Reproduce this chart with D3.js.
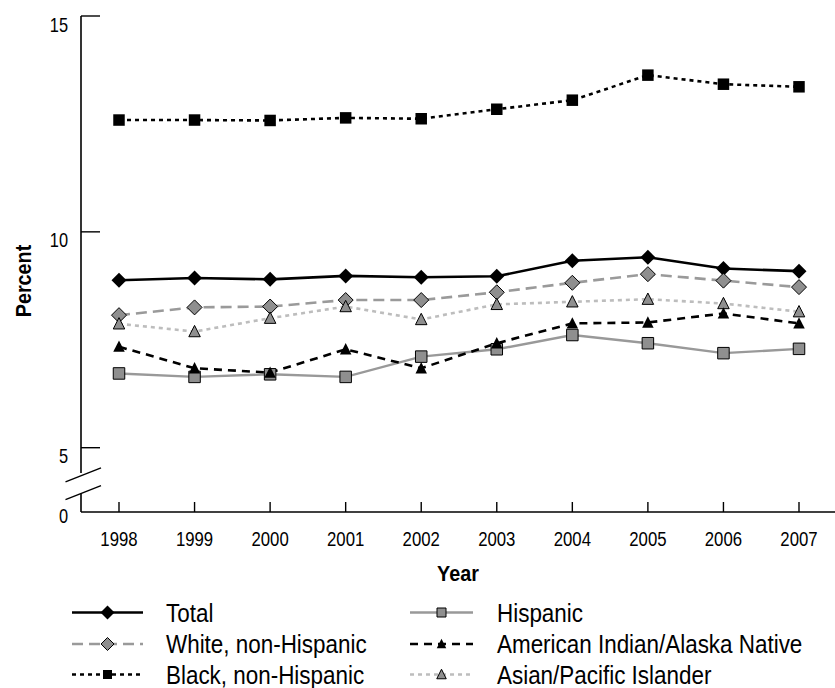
<!DOCTYPE html>
<html>
<head>
<meta charset="utf-8">
<script src="https://cdn.jsdelivr.net/npm/d3@7"></script>
<style>
  html, body { margin: 0; padding: 0; background: #fff; }
  svg { display: block; }
  text { font-family: "Liberation Sans", Arial, sans-serif; fill: #000; }
</style>
</head>
<body>
<svg id="chart" width="835" height="688"></svg>
<script>
const years = [1998, 1999, 2000, 2001, 2002, 2003, 2004, 2005, 2006, 2007];
const yTickValues = [0, 5, 10, 15];

const total    = [8.88, 8.93, 8.90, 8.98, 8.95, 8.97, 9.33, 9.41, 9.15, 9.09];
const white    = [8.07, 8.25, 8.27, 8.42, 8.42, 8.60, 8.82, 9.02, 8.87, 8.72];
const black    = [12.59, 12.59, 12.58, 12.64, 12.62, 12.84, 13.05, 13.63, 13.42, 13.36];
const hispanic = [6.72, 6.64, 6.70, 6.64, 7.11, 7.28, 7.61, 7.42, 7.19, 7.29];
const amInd    = [7.34, 6.84, 6.74, 7.28, 6.84, 7.42, 7.88, 7.90, 8.11, 7.88];
const asian    = [7.87, 7.69, 8.00, 8.27, 7.97, 8.32, 8.38, 8.44, 8.34, 8.15];

const seriesNames = ["Total", "White, non-Hispanic", "Black, non-Hispanic",
                     "Hispanic", "American Indian/Alaska Native", "Asian/Pacific Islander"];

const GRAY = "#8f8f8f";
const series = [
  {name: seriesNames[0], values: total,    stroke: "#000",    dash: null,    width: 2.6, shape: "diamond",  fill: "#000", mstroke: "none", size: 15, lsize: 14},
  {name: seriesNames[1], values: white,    stroke: "#9a9a9a", dash: "11,6",  width: 2.6, shape: "diamond",  fill: GRAY,   mstroke: "#000", size: 15, lsize: 13},
  {name: seriesNames[2], values: black,    stroke: "#000",    dash: "4,4",   width: 2.6, shape: "square",   fill: "#000", mstroke: "none", size: 11.5, lsize: 9},
  {name: seriesNames[3], values: hispanic, stroke: "#999",    dash: null,    width: 2.4, shape: "square",   fill: GRAY,   mstroke: "#000", size: 11.5, lsize: 9},
  {name: seriesNames[5], values: asian,    stroke: "#bdbdbd", dash: "4,4",   width: 2.6, shape: "triangle", fill: GRAY,   mstroke: "#000", size: 11.5, lsize: 9.5},
  {name: seriesNames[4], values: amInd,    stroke: "#000",    dash: "8,6",   width: 2.6, shape: "triangle", fill: "#000", mstroke: "none", size: 11.5, lsize: 9.5}
];

const svg = d3.select("#chart");

const x = d3.scaleLinear().domain([1998, 2007]).range([119, 799]);
// broken axis: 0..5 compressed, 5..15 linear
const y = d3.scaleLinear().domain([0, 5, 15]).range([512, 447.7, 16]);
const axisX = 81;

function txt(parent, tx, ty, str, size, anchor, opts = {}) {
  const sx = opts.sx || 0.84;
  const rot = opts.rotate ? ` rotate(${opts.rotate})` : "";
  const t = parent.append("text")
    .attr("transform", `translate(${tx},${ty})${rot} scale(${sx},1)`)
    .attr("font-size", size).attr("text-anchor", anchor).text(str);
  if (opts.bold) t.attr("font-weight", "bold");
  return t;
}

function shapePath(shape, s) {
  const h = s / 2;
  if (shape === "diamond") return `M0,${-h}L${h},0L0,${h}L${-h},0Z`;
  if (shape === "square") return `M${-h},${-h}H${h}V${h}H${-h}Z`;
  const th = s * 0.9;
  return `M0,${-th/2 - 1}L${h},${th/2}L${-h},${th/2}Z`;
}

// ---- axes ----
const g = svg.append("g");
const breakTop = y(5) + (y(0) - y(5)) * 0.395;
const breakBot = y(0) - (y(0) - y(5)) * 0.28;
g.append("line").attr("x1", axisX).attr("x2", axisX).attr("y1", y(15)).attr("y2", breakTop)
  .attr("stroke", "#000").attr("stroke-width", 1.6);
g.append("line").attr("x1", axisX).attr("x2", axisX).attr("y1", breakBot).attr("y2", y(0))
  .attr("stroke", "#000").attr("stroke-width", 1.6);
[breakTop + 1.5, breakBot - 1.5].forEach(cy => {
  g.append("line").attr("x1", axisX - 15.5).attr("y1", cy + 7.2).attr("x2", axisX + 20).attr("y2", cy - 6.8)
    .attr("stroke", "#000").attr("stroke-width", 1.4);
});
g.append("line").attr("x1", axisX).attr("x2", 835).attr("y1", y(0)).attr("y2", y(0))
  .attr("stroke", "#000").attr("stroke-width", 1.6);

// y ticks
yTickValues.forEach(v => {
  if (v !== 0) {
    g.append("line").attr("x1", axisX).attr("x2", axisX + 19).attr("y1", y(v)).attr("y2", y(v))
      .attr("stroke", "#000").attr("stroke-width", 1.4);
  }
  txt(g, 68, y(v) + (v === 0 ? 10.5 : 15.5), v, 20, "end", {sx: 0.82});
});

// x ticks
years.forEach(yr => {
  g.append("line").attr("x1", x(yr)).attr("x2", x(yr)).attr("y1", y(0)).attr("y2", y(0) - 10)
    .attr("stroke", "#000").attr("stroke-width", 1.4);
  txt(g, x(yr), 545.5, yr, 19.5, "middle", {sx: 0.86});
});

// axis titles
txt(svg, 458, 580.5, "Year", 21.5, "middle", {bold: true, sx: 0.92});
txt(svg, 31, 281, "Percent", 21.5, "middle", {bold: true, sx: 0.92, rotate: -90});

// ---- lines & markers ----
const line = d3.line().x((d, i) => x(years[i])).y(d => y(d));
series.forEach(s => {
  const p = svg.append("path").datum(s.values).attr("d", line)
    .attr("fill", "none").attr("stroke", s.stroke).attr("stroke-width", s.width);
  if (s.dash) p.attr("stroke-dasharray", s.dash);
});
series.forEach(s => {
  svg.append("g").selectAll("path").data(s.values).join("path")
    .attr("transform", (d, i) => `translate(${x(years[i])},${y(d)})`)
    .attr("d", shapePath(s.shape, s.size))
    .attr("fill", s.fill).attr("stroke", s.mstroke).attr("stroke-width", 1);
});

// ---- legend ----
const cols = [{x1: 72, x2: 143, tx: 166}, {x1: 410, x2: 473, tx: 497}];
const rows = [612.5, 644, 674.5];
seriesNames.forEach((name, k) => {
  const s = series.find(d => d.name === name);
  const c = cols[Math.floor(k / 3)];
  const ry = rows[k % 3];
  const lg = svg.append("g");
  const ln = lg.append("line").attr("x1", c.x1).attr("x2", c.x2).attr("y1", ry).attr("y2", ry)
    .attr("stroke", s.stroke).attr("stroke-width", s.width);
  if (s.dash) ln.attr("stroke-dasharray", s.dash);
  lg.append("path").attr("transform", `translate(${(c.x1 + c.x2) / 2},${ry})`)
    .attr("d", shapePath(s.shape, s.lsize))
    .attr("fill", s.fill).attr("stroke", s.mstroke).attr("stroke-width", 1);
  txt(lg, c.tx, ry + 9.2, name, 25.5, "start", {sx: 0.88});
});
</script>
</body>
</html>
